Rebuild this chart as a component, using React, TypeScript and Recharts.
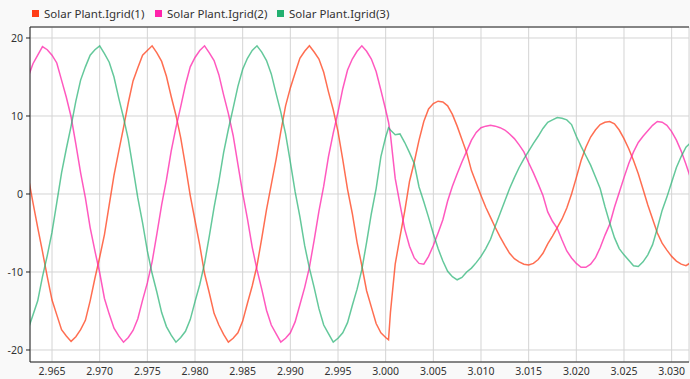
// App.tsx - three phase grid current around the 3.0 s fault
import React from 'react'
import {
  LineChart, Line, XAxis, YAxis, CartesianGrid, Legend, ReferenceLine
} from 'recharts'

// sample times (s)
const times = [
  2.9625, 2.963, 2.9635, 2.964, 2.9645, 2.965, 2.9655, 2.966, 2.9665, 2.967,
  2.9675, 2.968, 2.9685, 2.969, 2.9695, 2.97, 2.9705, 2.971, 2.9715, 2.972,
  2.9725, 2.973, 2.9735, 2.974, 2.9745, 2.975, 2.9755, 2.976, 2.9765, 2.977,
  2.9775, 2.978, 2.9785, 2.979, 2.9795, 2.98, 2.9805, 2.981, 2.9815, 2.982,
  2.9825, 2.983, 2.9835, 2.984, 2.9845, 2.985, 2.9855, 2.986, 2.9865, 2.987,
  2.9875, 2.988, 2.9885, 2.989, 2.9895, 2.99, 2.9905, 2.991, 2.9915, 2.992,
  2.9925, 2.993, 2.9935, 2.994, 2.9945, 2.995, 2.9955, 2.996, 2.9965, 2.997,
  2.9975, 2.998, 2.9985, 2.999, 2.9995, 3.0, 3.0003,
  3.0005, 3.001, 3.0015, 3.002, 3.0025, 3.003, 3.0035, 3.004, 3.0045, 3.005,
  3.0055, 3.006, 3.0065, 3.007, 3.0075, 3.008, 3.0085, 3.009, 3.0095, 3.01,
  3.0105, 3.011, 3.0115, 3.012, 3.0125, 3.013, 3.0135, 3.014, 3.0145, 3.015,
  3.0155, 3.016, 3.0165, 3.017, 3.0175, 3.018, 3.0185, 3.019, 3.0195, 3.02,
  3.0205, 3.021, 3.0215, 3.022, 3.0225, 3.023, 3.0235, 3.024, 3.0245, 3.025,
  3.0255, 3.026, 3.0265, 3.027, 3.0275, 3.028, 3.0285, 3.029, 3.0295, 3.03,
  3.0305, 3.031, 3.0315, 3.032
]

const igrid1 = [
  2.2, -1.1, -4.3, -7.4, -10.6, -13.6, -15.5, -17.4, -18.2, -18.9,
  -18.3, -17.4, -16.2, -13.7, -10.8, -8.1, -5.2, -1.4, 2.4, 5.5,
  8.5, 11.7, 14.5, 16.2, 17.8, 18.4, 19.0, 18.1, 17.0, 15.1,
  12.5, 10.1, 7.2, 3.6, -0.2, -3.4, -6.6, -10.2, -12.7, -15.3,
  -16.8, -18.0, -19.0, -18.5, -17.8, -16.3, -14.0, -11.8, -9.2, -5.7,
  -2.0, 1.2, 4.4, 8.0, 11.3, 13.6, 15.5, 17.4, 18.3, 19.0,
  18.2, 17.3, 15.6, 13.1, 10.8, 8.0, 4.4, 0.6, -2.5, -6.2,
  -9.2, -12.4, -14.5, -16.6, -17.8, -18.4, -18.7,
  -15.2, -9.0, -5.5, -2.2, 1.6, 4.1, 6.9, 9.3, 10.9, 11.6,
  11.9, 11.8, 11.3, 10.2, 8.7, 7.0, 5.3, 3.0, 1.4, -0.2,
  -1.7, -3.0, -4.3, -5.5, -6.6, -7.6, -8.3, -8.7, -9.0, -9.1,
  -8.9, -8.4, -7.6, -6.4, -5.4, -4.3, -3.2, -1.8, 0.0, 2.1,
  4.3, 6.0, 7.3, 8.2, 8.9, 9.2, 9.3, 9.0, 8.2, 7.1,
  5.8, 4.3, 2.6, 0.6, -1.4, -3.2, -5.0, -6.3, -7.2, -8.0,
  -8.6, -9.0, -9.2, -8.8
]

const igrid2 = [
  15.0, 16.7, 17.8, 18.9, 18.5, 17.8, 16.8, 14.6, 12.4, 9.9,
  6.4, 2.7, -0.5, -4.3, -7.3, -10.1, -13.4, -15.4, -17.2, -18.2,
  -19.0, -18.4, -17.5, -16.0, -13.6, -11.4, -8.7, -5.1, -1.4, 1.8,
  5.5, 8.5, 11.2, 14.0, 16.3, 17.5, 18.4, 19.0, 18.1, 17.1,
  15.3, 12.7, 10.3, 7.5, 3.8, 0.1, -3.2, -6.8, -9.7, -12.2,
  -14.9, -16.8, -17.9, -19.0, -18.5, -17.8, -16.4, -14.2, -12.0, -9.4,
  -5.9, -2.2, 1.0, 4.8, 7.8, 10.5, 13.5, 15.9, 17.3, 18.3,
  19.0, 18.3, 17.3, 15.7, 13.3, 10.8, 9.2,
  7.6, 2.0, -1.3, -4.5, -6.7, -8.2, -8.9, -9.0, -8.0, -6.6,
  -5.0, -3.3, -0.9, 1.0, 2.6, 4.1, 5.5, 6.9, 7.9, 8.5,
  8.7, 8.8, 8.7, 8.5, 8.2, 7.7, 7.1, 6.3, 5.4, 4.0,
  2.7, 1.3, -0.2, -2.3, -3.5, -4.4, -5.9, -7.3, -8.2, -8.9,
  -9.4, -9.4, -9.0, -8.2, -6.9, -5.3, -3.9, -1.7, 0.2, 2.1,
  3.9, 5.4, 6.6, 7.4, 8.1, 8.8, 9.3, 9.2, 8.8, 8.0,
  6.9, 5.5, 3.8, 2.0
]

const igrid3 = [
  -17.3, -15.5, -13.7, -10.6, -7.9, -4.9, -1.1, 2.7, 5.8, 8.7,
  11.9, 14.6, 16.3, 17.8, 18.5, 19.0, 18.0, 16.9, 15.0, 12.3,
  9.8, 7.0, 3.3, -0.5, -3.7, -7.3, -10.2, -12.6, -15.2, -17.0,
  -18.1, -19.0, -18.4, -17.6, -16.1, -13.8, -11.6, -8.9, -5.4, -1.7,
  1.6, 5.3, 8.3, 11.0, 13.8, 16.0, 17.4, 18.4, 19.0, 18.2,
  17.1, 15.4, 12.9, 10.5, 7.7, 4.1, 0.3, -2.9, -6.6, -9.5,
  -12.0, -14.7, -16.8, -17.9, -19.0, -18.5, -17.8, -16.5, -14.3, -12.2,
  -9.7, -6.2, -2.5, 0.7, 4.8, 7.3, 8.5,
  8.2, 7.6, 7.7, 6.6, 5.3, 3.9, 0.9, -1.0, -3.0, -5.1,
  -7.0, -8.6, -9.9, -10.6, -11.0, -10.7, -10.0, -9.5, -8.8, -8.0,
  -7.0, -5.8, -4.1, -2.5, -0.9, 0.7, 2.1, 3.4, 4.5, 5.5,
  6.5, 7.4, 8.4, 9.2, 9.5, 9.8, 9.7, 9.5, 8.9, 7.4,
  6.1, 4.9, 3.7, 2.2, 0.7, -1.6, -3.7, -5.6, -7.0, -7.8,
  -8.5, -9.2, -9.3, -8.7, -7.8, -6.5, -4.4, -2.1, -0.4, 1.5,
  3.4, 4.8, 6.0, 6.6
]

const xTicks = [2.965, 2.97, 2.975, 2.98, 2.985, 2.99, 2.995, 3.0, 3.005, 3.01, 3.015, 3.02, 3.025, 3.03]
const yTicks = [-20, -10, 0, 10, 20]

const seriesNames = ['Solar Plant.Igrid(1)', 'Solar Plant.Igrid(2)', 'Solar Plant.Igrid(3)']
const seriesColors = ['#ff3d17', '#ff22aa', '#22b070']
const legendLeft = [32, 155, 277]

const FONT = '"Noto Sans", "Segoe UI", sans-serif'

const chartData = times.map((t, i) => ({
  t,
  s1: igrid1[i],
  s2: igrid2[i],
  s3: igrid3[i]
}))

const TopLegend = () => (
  <div style={{ position: 'relative', height: 27, fontFamily: FONT, fontSize: 11.5, color: '#333' }}>
    {seriesNames.map((name, i) => (
      <div
        key={name}
        style={{ position: 'absolute', left: legendLeft[i], top: 6, display: 'flex', alignItems: 'center', whiteSpace: 'nowrap' }}
      >
        <span style={{ width: 7, height: 7, background: seriesColors[i], display: 'inline-block', marginRight: 5 }} />
        <span>{name}</span>
      </div>
    ))}
  </div>
)

export default function App() {
  return (
    <div style={{ position: 'absolute', left: 0, top: 0, width: 690, height: 379, background: '#f9f9f9', overflow: 'hidden' }}>
      <LineChart width={690} height={379} data={chartData} margin={{ top: 0, right: 1, bottom: 0, left: 0 }}>
        <Legend verticalAlign="top" align="left" height={27} content={<TopLegend />} wrapperStyle={{ left: 0, top: 0, width: 690 }} />
        <CartesianGrid stroke="#d4d4d4" fill="#ffffff" />
        <XAxis
          dataKey="t"
          type="number"
          domain={[2.96269, 3.03182]}
          allowDataOverflow
          ticks={xTicks}
          tickFormatter={(v: number) => v.toFixed(3)}
          tick={{ fill: '#333', fontSize: 10.5, fontFamily: FONT }}
          tickLine={false}
          tickSize={4}
          tickMargin={2}
          height={17}
          stroke="#222"
        />
        <YAxis
          type="number"
          domain={[-21.54, 21.41]}
          allowDataOverflow
          ticks={yTicks}
          tick={{ fill: '#333', fontSize: 10.5, fontFamily: FONT }}
          tickSize={4}
          tickMargin={3}
          width={30}
          stroke="#222"
        />
        <ReferenceLine y={21.41} stroke="#222" />
        <Line type="linear" dataKey="s1" name={seriesNames[0]} stroke={seriesColors[0]} strokeOpacity={0.75} strokeWidth={1.5} dot={false} isAnimationActive={false} />
        <Line type="linear" dataKey="s2" name={seriesNames[1]} stroke={seriesColors[1]} strokeOpacity={0.75} strokeWidth={1.5} dot={false} isAnimationActive={false} />
        <Line type="linear" dataKey="s3" name={seriesNames[2]} stroke={seriesColors[2]} strokeOpacity={0.7} strokeWidth={1.5} dot={false} isAnimationActive={false} />
      </LineChart>
    </div>
  )
}
